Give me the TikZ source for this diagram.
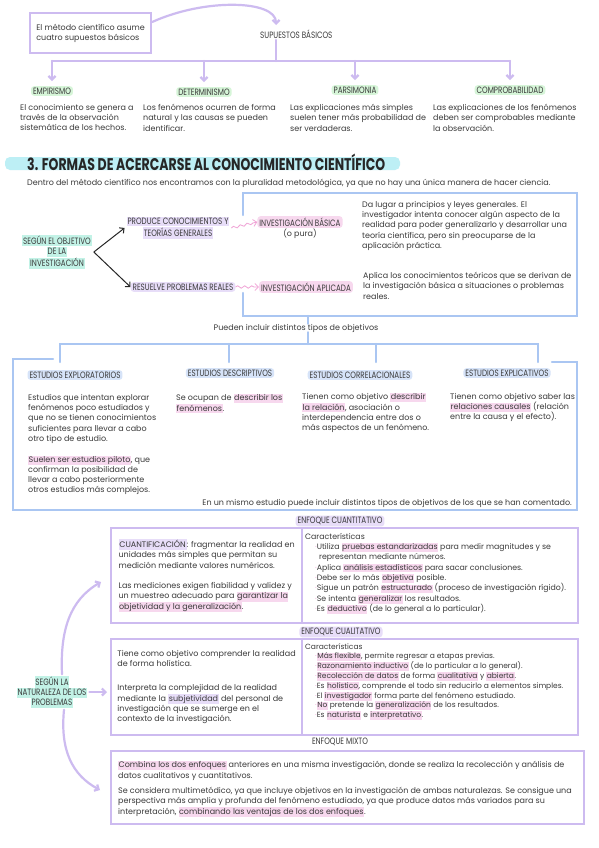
\documentclass[tikz,border=0pt]{standalone}
\usepackage{fontspec}
\setmainfont{Poppins}
\newfontfamily\mayus[FakeStretch=0.78]{Poppins}
\usetikzlibrary{calc, positioning, arrows.meta, decorations.pathmorphing}

\definecolor{lila}{HTML}{CDBBF0}
\definecolor{azul}{HTML}{AAC6F2}
\definecolor{tinta}{HTML}{3A3A3A}
\definecolor{verde}{HTML}{D6F5D8}
\definecolor{menta}{HTML}{C2F2E6}
\definecolor{lilaclaro}{HTML}{E7DDF8}
\definecolor{rosa}{HTML}{F7D8EE}
\definecolor{azulclaro}{HTML}{D6E3F8}
\definecolor{cian}{HTML}{BDEFF5}
\definecolor{rosafuerte}{HTML}{F0A3D6}

\newcommand{\hlrosa}[1]{{\setlength{\fboxsep}{0.5pt}\colorbox{rosa}{\rule[-1.6pt]{0pt}{7.2pt}#1}}}
\newcommand{\hllila}[1]{{\setlength{\fboxsep}{0.8pt}\colorbox{lilaclaro}{\rule[-1.6pt]{0pt}{8pt}#1}}}
\newcommand{\hlmenta}[1]{{\setlength{\fboxsep}{0.8pt}\colorbox{menta}{\rule[-1.6pt]{0pt}{8pt}#1}}}
\newcommand{\vineta}{\hspace*{10pt}\textcolor{rosafuerte}{·}}

\begin{document}
\begin{tikzpicture}[x=1pt, y=-1pt, >={Straight Barb[length=3.5pt,width=7pt]},
    texto/.style={font=\fontsize{8}{10.3}\selectfont, text=tinta, align=left, inner sep=0pt},
    mayu/.style={font=\mayus\fontsize{9.2}{10.2}\selectfont, text=tinta, inner xsep=2pt, inner ysep=1.5pt, rounded corners=3pt},
    marco/.style={draw=lila, line width=2.2pt},
    ramalila/.style={draw=lila, line width=2.2pt, line cap=round, line join=round},
    ramaazul/.style={draw=azul, line width=2.2pt, line cap=round},
    negra/.style={draw=black!85, line width=1pt},
    onda/.style={draw=rosafuerte, line width=0.8pt, decorate,
      decoration={snake, amplitude=1.2pt, segment length=7pt, post length=3pt}}]
    \fill[white] (0,0) rectangle (599,848);
    \useasboundingbox (0,0) rectangle (599,848);

    % 1. Supuestos basicos
    \node[marco, texto, minimum width=121, minimum height=40, anchor=north west] (caja) at (29,12)
        {El método científico asume\\cuatro supuestos básicos};
    \node[mayu, anchor=west] (supuestos) at (258,34) {SUPUESTOS BÁSICOS};
    \coordinate (eje) at ($(supuestos.west)+(18,0)$);
    \draw[ramalila, ->] ($(caja.north east)+(0,10)$) .. controls (205,-2) and (276,0) .. ($(eje |- supuestos.north)+(0,-3)$);

    \node[mayu, fill=verde] (empirismo) at (52,91) {EMPIRISMO};
    \node[mayu, fill=verde] (determinismo) at (204,92) {DETERMINISMO};
    \node[mayu, fill=verde] (parsimonia) at (355,90) {PARSIMONIA};
    \node[mayu, fill=verde] (comprobabilidad) at (510,90) {COMPROBABILIDAD};

    \draw[ramalila] (eje |- supuestos.south) -- (eje |- 0,61);
    \draw[ramalila] (empirismo.north |- 0,61) -- (comprobabilidad.north |- 0,61);
    \draw[ramalila, ->] (empirismo.north |- 0,61) -- ($(empirismo.north)+(0,-5)$);
    \draw[ramalila, ->] (determinismo.north |- 0,61) -- ($(determinismo.north)+(0,-5)$);
    \draw[ramalila, ->] (parsimonia.north |- 0,61) -- ($(parsimonia.north)+(0,-5)$);
    \draw[ramalila, ->] (comprobabilidad.north |- 0,61) -- ($(comprobabilidad.north)+(0,-5)$);

    \node[texto, anchor=north west] (descemp) at (20,104) {El conocimiento se genera a\\través de la observación\\sistemática de los hechos.};
    \node[texto, anchor=north west] (descdet) at (143,104) {Los fenómenos ocurren de forma\\natural y las causas se pueden\\identificar.};
    \node[texto, anchor=north west] (descpar) at (290,104) {Las explicaciones más simples\\suelen tener más probabilidad de\\ser verdaderas.};
    \node[texto, anchor=north west] (desccom) at (433,104) {Las explicaciones de los fenómenos\\deben ser comprobables mediante\\la observación.};

    % 2. Titulo
    \fill[cian, rounded corners=5pt] (5,157) rectangle (400,170);
    \node[anchor=base west, inner sep=0pt, text=black!85] (titulo) at (27,170)
        {\resizebox{358pt}{16.5pt}{\bfseries 3. FORMAS DE ACERCARSE AL CONOCIMIENTO CIENTÍFICO}};
    \node[texto, anchor=west] (intro) at (27,183) {Dentro del método científico nos encontramos con la pluralidad metodológica, ya que no hay una única manera de hacer ciencia.};

    % 3. Segun el objetivo
    \node[mayu, align=center] (objetivo) at (57,252) {\hlmenta{SEGÚN EL OBJETIVO}\\\hlmenta{DE LA}\\\hlmenta{INVESTIGACIÓN}};
    \node[mayu, align=center] (produce) at (178,228) {\hllila{PRODUCE CONOCIMIENTOS Y}\\\hllila{TEORÍAS GENERALES}};
    \node[mayu, fill=lilaclaro] (resuelve) at (183,287) {RESUELVE PROBLEMAS REALES};
    \node[mayu, fill=rosa] (basica) at (300,222) {INVESTIGACIÓN BÁSICA};
    \node[texto, below=1pt of basica] (pura) {(o pura)};
    \node[mayu, fill=rosa] (aplicada) at (306,287) {INVESTIGACIÓN APLICADA};

    \draw[negra, ->] (objetivo.east) -- (produce.west);
    \draw[negra, ->] (objetivo.east) -- (resuelve.west);
    \draw[onda, ->] (produce.east) -- (basica.west);
    \draw[onda, ->] (resuelve.east) -- (aplicada.west);

    \draw[ramaazul] (243,215) -- (243,193) -- (577,193) -- (577,316) -- (243,316) -- (243,293);
    \node[texto, anchor=north west] (txtbasica) at (362,201) {Da lugar a principios y leyes generales. El\\investigador intenta conocer algún aspecto de la\\realidad para poder generalizarlo y desarrollar una\\teoría científica, pero sin preocuparse de la\\aplicación práctica.};
    \node[texto, anchor=north west] (txtaplicada) at (363,272) {Aplica los conocimientos teóricos que se derivan de\\la investigación básica a situaciones o problemas\\reales.};

    % 4. Tipos de objetivos
    \node[texto] (pueden) at (296,328) {Pueden incluir distintos tipos de objetivos};
    \draw[ramaazul] (308,316) -- (pueden.north -| 308,0);
    \draw[ramaazul] (pueden.south -| 308,0) -- (308,344);
    \draw[ramaazul] (60,362) -- (60,344) -- (538,344) -- (538,362);
    \draw[ramaazul] (229,344) -- (229,362);
    \draw[ramaazul] (376,344) -- (376,362);
    \draw[ramaazul] (53,359) -- (13,359) -- (13,510) -- (577,510) -- (577,362) -- (552,362);

    \node[mayu, fill=azulclaro] (exploratorios) at (75,375) {ESTUDIOS EXPLORATORIOS};
    \node[mayu, fill=azulclaro] (descriptivos) at (230,373) {ESTUDIOS DESCRIPTIVOS};
    \node[mayu, fill=azulclaro] (correlacionales) at (360,375) {ESTUDIOS CORRELACIONALES};
    \node[mayu, fill=azulclaro] (explicativos) at (507,373) {ESTUDIOS EXPLICATIVOS};

    \node[texto, anchor=north west] (txtexplo) at (28,394) {Estudios que intentan explorar\\fenómenos poco estudiados y\\que no se tienen conocimientos\\suficientes para llevar a cabo\\otro tipo de estudio.\\[10.3pt]\hlrosa{Suelen ser estudios piloto}, que\\confirman la posibilidad de\\llevar a cabo posteriormente\\otros estudios más complejos.};
    \node[texto, anchor=north west] (txtdescr) at (176,394) {Se ocupan de \hlrosa{describir los}\\\hlrosa{fenómenos}.};
    \node[texto, anchor=north west] (txtcorre) at (302,393) {Tienen como objetivo \hlrosa{describir}\\\hlrosa{la relación}, asociación o\\interdependencia entre dos o\\más aspectos de un fenómeno.};
    \node[texto, anchor=north west] (txtexpli) at (450,393) {Tienen como objetivo saber las\\\hlrosa{relaciones causales} (relación\\entre la causa y el efecto).};
    \node[texto, anchor=east] (mismo) at (572,503) {En un mismo estudio puede incluir distintos tipos de objetivos de los que se han comentado.};

    % 5. Segun la naturaleza de los problemas
    \node[mayu, fill=lilaclaro] (cuantitativo) at (340,521) {ENFOQUE CUANTITATIVO};
    \node[marco, texto, anchor=north west, minimum width=191, minimum height=95] (cuantiizq) at (110,527)
        {\hllila{CUANTIFICACIÓN}: fragmentar la realidad en\\unidades más simples que permitan su\\medición mediante valores numéricos.\\[10.3pt]Las mediciones exigen fiabilidad y validez y\\un muestreo adecuado para \hlrosa{garantizar la}\\\hlrosa{objetividad y la generalización}.};
    \node[marco, anchor=north west, minimum width=276, minimum height=95] (cuantider) at (301,527) {};
    \node[texto, anchor=north west, font=\fontsize{7.8}{10.3}\selectfont] (caraccuanti) at ($(cuantider.north west)+(4,6)$)
        {Características\\
        \vineta Utiliza \hlrosa{pruebas estandarizadas} para medir magnitudes y se\\
        \hspace*{14pt}representan mediante números.\\
        \vineta Aplica \hlrosa{análisis estadísticos} para sacar conclusiones.\\
        \vineta Debe ser lo más \hlrosa{objetiva} posible.\\
        \vineta Sigue un patrón \hlrosa{estructurado} (proceso de investigación rígido).\\
        \vineta Se intenta \hlrosa{generalizar} los resultados.\\
        \vineta Es \hlrosa{deductivo} (de lo general a lo particular).};

    \node[mayu, fill=lilaclaro] (cualitativo) at (341,632) {ENFOQUE CUALITATIVO};
    \node[marco, texto, anchor=north west, minimum width=191, minimum height=96] (cualiizq) at (110,638)
        {Tiene como objetivo comprender la realidad\\de forma holística.\\[14pt]Interpreta la complejidad de la realidad\\mediante la \hllila{subjetividad} del personal de\\investigación que se sumerge en el\\contexto de la investigación.};
    \node[marco, anchor=north west, minimum width=276, minimum height=96] (cualider) at (301,638) {};
    \node[texto, anchor=north west, font=\fontsize{7.5}{9.8}\selectfont] (caraccuali) at ($(cualider.north west)+(4,5)$)
        {Características\\
        \vineta\hlrosa{Más flexible}, permite regresar a etapas previas.\\
        \vineta\hlrosa{Razonamiento inductivo} (de lo particular a lo general).\\
        \vineta\hlrosa{Recolección de datos} de forma \hlrosa{cualitativa} y \hlrosa{abierta}.\\
        \vineta Es \hlrosa{holístico}, comprende el todo sin reducirlo a elementos simples.\\
        \vineta El \hlrosa{investigador} forma parte del fenómeno estudiado.\\
        \vineta\hlrosa{No} pretende la \hlrosa{generalización} de los resultados.\\
        \vineta Es \hlrosa{naturista} e \hlrosa{interpretativo}.};

    \node[mayu] (mixto) at (340,742) {ENFOQUE MIXTO};
    \node[marco, anchor=north west, minimum width=473, minimum height=73] (mixtocaja) at (110,750) {};
    \node[texto, anchor=north west] (txtmixto) at (118,761)
        {\hlrosa{Combina los dos enfoques} anteriores en una misma investigación, donde se realiza la recolección y análisis de\\datos cualitativos y cuantitativos.\\[5pt]Se considera multimetódico, ya que incluye objetivos en la investigación de ambas naturalezas. Se consigue una\\perspectiva más amplia y profunda del fenómeno estudiado, ya que produce datos más variados para su\\interpretación, \hlrosa{combinando las ventajas de los dos enfoques}.};

    \node[mayu, align=center] (naturaleza) at (52,692) {\hlmenta{SEGÚN LA}\\\hlmenta{NATURALEZA DE LOS}\\\hlmenta{PROBLEMAS}};
    \draw[ramalila, ->] (naturaleza.east) -- ($(cualiizq.west |- naturaleza.east)+(-3,0)$);
    \draw[ramalila, ->] ($(naturaleza.north)+(10,0)$) .. controls (60,630) and (70,600) .. ($(cuantiizq.west |- 0,582)+(-9,0)$);
    \draw[ramalila, ->] ($(naturaleza.south)+(12,0)$) .. controls (60,750) and (72,775) .. ($(mixtocaja.west |- 0,790)+(-10,0)$);
\end{tikzpicture}
\end{document}
